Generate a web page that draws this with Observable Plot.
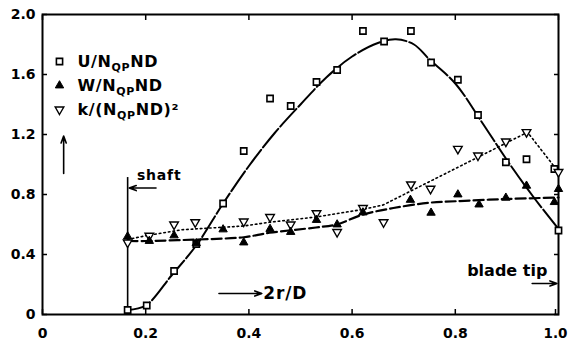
<!DOCTYPE html>
<html><head><meta charset="utf-8">
<script src="https://cdn.jsdelivr.net/npm/d3@7"></script>
<script src="https://cdn.jsdelivr.net/npm/@observablehq/plot@0.6"></script>
<style>html,body{margin:0;padding:0;background:#fff;}</style>
</head><body><div id="chart"></div>
<script>
// Axis ticks
const xTicks = [0, 0.2, 0.4, 0.6, 0.8, 1.0];
const xTickLabels = ["0", "0.2", "0.4", "0.6", "0.8", "1.0"];
const yTicks = [0, 0.4, 0.8, 1.2, 1.6, 2.0];
const yTickLabels = ["0", "0.4", "0.8", "1.2", "1.6", "2.0"];

// Measured points: U/N_QP ND (open squares)
const uX = [0.165, 0.202, 0.255, 0.298, 0.350, 0.390, 0.441, 0.481, 0.531, 0.571, 0.621, 0.662, 0.714, 0.753, 0.805, 0.844, 0.898, 0.938, 0.992, 1.0];
const uY = [0.03, 0.06, 0.29, 0.47, 0.74, 1.09, 1.44, 1.39, 1.55, 1.63, 1.89, 1.82, 1.89, 1.68, 1.565, 1.33, 1.015, 1.035, 0.97, 0.56];
// W/N_QP ND (filled triangles)
const wX = [0.165, 0.207, 0.255, 0.298, 0.350, 0.390, 0.441, 0.481, 0.531, 0.571, 0.621, 0.713, 0.753, 0.805, 0.846, 0.898, 0.938, 0.992, 1.0];
const wY = [0.52, 0.49, 0.527, 0.475, 0.567, 0.48, 0.57, 0.55, 0.63, 0.60, 0.68, 0.764, 0.678, 0.80, 0.733, 0.778, 0.858, 0.749, 0.836];
// k/(N_QP ND)^2 (open down triangles)
const kX = [0.165, 0.207, 0.255, 0.296, 0.390, 0.441, 0.481, 0.531, 0.571, 0.621, 0.661, 0.714, 0.752, 0.805, 0.844, 0.898, 0.938, 1.0];
const kY = [0.48, 0.525, 0.60, 0.615, 0.62, 0.65, 0.60, 0.675, 0.55, 0.71, 0.615, 0.867, 0.838, 1.104, 1.06, 1.153, 1.216, 0.95];

// Fitted curves
const uFitX = [0.165, 0.2, 0.25, 0.3, 0.35, 0.4, 0.45, 0.5, 0.55, 0.6, 0.65, 0.685, 0.72, 0.75, 0.8, 0.85, 0.9, 0.95, 1.0];
const uFitY = [0.03, 0.06, 0.26, 0.47, 0.74, 0.99, 1.21, 1.40, 1.58, 1.72, 1.81, 1.835, 1.80, 1.70, 1.54, 1.29, 1.03, 0.79, 0.57];
const wFitX = [0.165, 0.2, 0.3, 0.39, 0.44, 0.53, 0.57, 0.62, 0.68, 0.75, 0.8, 0.9, 1.0];
const wFitY = [0.49, 0.49, 0.50, 0.515, 0.545, 0.58, 0.60, 0.665, 0.71, 0.745, 0.755, 0.77, 0.78];
const kFitX = [0.165, 0.2, 0.27, 0.39, 0.44, 0.53, 0.62, 0.66, 0.94, 1.0];
const kFitY = [0.50, 0.525, 0.565, 0.59, 0.615, 0.65, 0.70, 0.73, 1.215, 0.95];

// Legend
const legendPre = ["U/N", "W/N", "k/(N"];
const legendSub = ["QP", "QP", "QP"];
const legendPost = ["ND", "ND", "ND)\u00b2"];

// Annotations
const shaftX = [0.165];
const shaftTop = 0.913;
const arrowX1 = [0.22, 0.041, 0.342, 0.949];
const arrowY1 = [0.843, 0.94, 0.14, 0.207];
const arrowX2 = [0.168, 0.041, 0.425, 0.997];
const arrowY2 = [0.843, 1.19, 0.14, 0.207];
const noteText = ["shaft", "2r/D", "blade tip"];
const noteX = [0.183, 0.428, 0.823];
const noteY = [0.927, 0.14, 0.293];
const noteSize = [14, 17, 16];

const zip = (xs, ys) => xs.map((x, i) => ({x, y: ys[i]}));
const uPts = zip(uX, uY), wPts = zip(wX, wY), kPts = zip(kX, kY);
const uFit = zip(uFitX, uFitY), wFit = zip(wFitX, wFitY), kFit = zip(kFitX, kFitY);
const arrows = arrowX1.map((x1, i) => ({x1, y1: arrowY1[i], x2: arrowX2[i], y2: arrowY2[i]}));
const notes = noteText.map((t, i) => ({t, x: noteX[i], y: noteY[i], s: noteSize[i]}));

const triangleDown = {
  draw(context, size) {
    const y = -Math.sqrt(size / (Math.sqrt(3) * 3));
    context.moveTo(0, -y * 2);
    context.lineTo(-Math.sqrt(3) * y, y);
    context.lineTo(Math.sqrt(3) * y, y);
    context.closePath();
  }
};

const markStyles = [
  {symbol: "square", r: 3.5, fill: "white", stroke: "black", strokeWidth: 1.6},
  {symbol: "triangle", r: 3.1, fill: "black", stroke: "black", strokeWidth: 1},
  {symbol: triangleDown, r: 3.2, fill: "white", stroke: "black", strokeWidth: 1.4}
];

const legendMarks = [];
legendPre.forEach((p, i) => {
  legendMarks.push(Plot.dot([0], {frameAnchor: "top-left", dx: 17, dy: 47 + 24 * i, ...markStyles[i]}));
  legendMarks.push(Plot.text([p + legendSub[i] + legendPost[i]], {
    frameAnchor: "top-left", dx: 35, dy: 47 + 24 * i, text: d => d,
    textAnchor: "start", lineAnchor: "middle", fontSize: 16, fontWeight: "bold"
  }));
});

const xFmt = d => xTickLabels[xTicks.indexOf(d)];
const chart = Plot.plot({
  width: 568, height: 343,
  marginLeft: 42, marginRight: 10, marginTop: 14, marginBottom: 29,
  style: {fontFamily: "DejaVu Sans", fontWeight: "bold", fontSize: "14px", background: "white", color: "black"},
  x: {domain: [0, 1]},
  y: {domain: [0, 2]},
  marks: [
    Plot.axisX(xTicks.slice(0, -1), {anchor: "bottom", tickSize: -5, tickPadding: 19, tickFormat: xFmt, label: null, strokeWidth: 1.5}),
    Plot.axisX(xTicks.slice(-1), {anchor: "bottom", tickSize: -5, tickPadding: 19, tickFormat: xFmt, label: null, strokeWidth: 1.5, dx: -3, fontSize: 13.5}),
    Plot.axisX(xTicks, {anchor: "top", tickSize: -5, tickFormat: () => "", label: null, strokeWidth: 1.5}),
    Plot.axisY(yTicks, {anchor: "left", tickSize: -5, tickPadding: 12, tickFormat: d => yTickLabels[yTicks.indexOf(d)], label: null, strokeWidth: 1.5}),
    Plot.axisY(yTicks, {anchor: "right", tickSize: -5, tickFormat: () => "", label: null, strokeWidth: 1.5}),
    Plot.frame({stroke: "black", strokeWidth: 2}),
    Plot.ruleX(shaftX, {y1: 0, y2: shaftTop, stroke: "black", strokeWidth: 1.6}),
    Plot.arrow(arrows, {x1: "x1", y1: "y1", x2: "x2", y2: "y2", stroke: "black", strokeWidth: 1.6, headLength: 7, headAngle: 40}),
    Plot.text(notes, {x: "x", y: "y", text: "t", fontSize: "s", textAnchor: "start", lineAnchor: "middle", fontWeight: "bold"}),
    Plot.line(uFit, {x: "x", y: "y", curve: "catmull-rom", stroke: "black", strokeWidth: 2, strokeDasharray: "24,3"}),
    Plot.line(wFit, {x: "x", y: "y", curve: "catmull-rom", stroke: "black", strokeWidth: 2.2, strokeDasharray: "10,4"}),
    Plot.line(kFit, {x: "x", y: "y", curve: "linear", stroke: "black", strokeWidth: 1.6, strokeDasharray: "1.6,3"}),
    Plot.dot(uPts, {x: "x", y: "y", ...markStyles[0]}),
    Plot.dot(kPts, {x: "x", y: "y", ...markStyles[2]}),
    Plot.dot(wPts, {x: "x", y: "y", ...markStyles[1]}),
    ...legendMarks
  ]
});
document.getElementById("chart").appendChild(chart);

// Rich text for legend subscripts
const NS = "http://www.w3.org/2000/svg";
chart.querySelectorAll("text").forEach(t => {
  const content = t.textContent;
  const i = legendPre.findIndex((p, j) => p + legendSub[j] + legendPost[j] === content);
  if (i >= 0) {
    t.textContent = "";
    const a = document.createElementNS(NS, "tspan"); a.textContent = legendPre[i];
    const b = document.createElementNS(NS, "tspan"); b.textContent = legendSub[i];
    b.setAttribute("dy", "4"); b.setAttribute("font-size", "11");
    const c = document.createElementNS(NS, "tspan"); c.textContent = legendPost[i];
    c.setAttribute("dy", "-4");
    t.append(a, b, c);
    t.setAttribute("letter-spacing", "0.6");
  } else if (content === "shaft" || content === "2r/D") {
    t.setAttribute("letter-spacing", "0.8");
  }
});
</script></body></html>
